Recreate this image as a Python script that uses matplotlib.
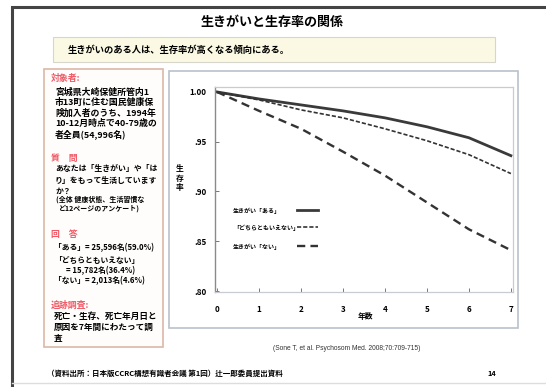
import matplotlib.pyplot as plt
from matplotlib.patches import Rectangle

plt.rcParams['font.family'] = ['Noto Sans CJK JP', 'DejaVu Sans']

# survival by ikigai answer, read per year of follow-up
years = [0, 1, 2, 3, 4, 5, 6, 7]
surv_aru = [1.000, 0.993, 0.987, 0.981, 0.974, 0.965, 0.954, 0.936]
surv_dochira = [1.000, 0.992, 0.982, 0.974, 0.963, 0.951, 0.937, 0.918]
surv_nai = [1.000, 0.981, 0.963, 0.940, 0.916, 0.889, 0.862, 0.841]
series_labels = ["生きがい「ある」", "「どちらともいえない」", "生きがい「ない」"]

y_ticks = [0.80, 0.85, 0.90, 0.95, 1.00]
y_ticklabels = [".80", ".85", ".90", ".95", "1.00"]

W, H = 546, 387
fig = plt.figure(figsize=(W / 100, H / 100), dpi=100)

# page layer in pixel coordinates
bg = fig.add_axes([0, 0, 1, 1])
bg.set_xlim(0, W)
bg.set_ylim(H, 0)
bg.axis('off')
bg.set_zorder(0)

bg.plot([12, 12, W], [H, 7, 7], color='#444444', lw=2.2, solid_joinstyle='miter')
bg.plot([12, W], [383, 383], color='#dddddd', lw=1)

bg.text(272, 22, "生きがいと生存率の関係", fontsize=9.4, fontweight='bold',
        ha='center', va='center')
bg.add_patch(Rectangle((53, 37), 442, 25, facecolor='#fbf9e4', edgecolor='#d6d6cc', lw=0.8))
bg.text(68, 50, "生きがいのある人は、生存率が高くなる傾向にある。", fontsize=6.7,
        fontweight='bold', ha='left', va='center')

# left info box
bg.add_patch(Rectangle((44, 69), 119, 278, facecolor='#fffdfb', edgecolor='#dcb8a8', lw=1.2))
red = '#ee5a66'
left_lines = [
    (51, 79, "対象者:", red, 6.4),
    (55, 92, "宮城県大崎保健所管内1", 'black', 6.4),
    (55, 102, "市13町に住む国民健康保", 'black', 6.4),
    (55, 113, "険加入者のうち、1994年", 'black', 6.4),
    (55, 123, "10-12月時点で40-79歳の", 'black', 6.4),
    (55, 134, "者全員(54,996名)", 'black', 6.4),
    (51, 159, "質　問", red, 6.4),
    (55, 169, "あなたは「生きがい」や「は", 'black', 5.7),
    (55, 180, "り」をもって生活しています", 'black', 5.7),
    (55, 191, "か？", 'black', 5.7),
    (56, 199, "(全体 健康状態、生活習慣な", 'black', 5.0),
    (59, 208, "ど12ページのアンケート)", 'black', 5.0),
    (51, 235, "回　答", red, 6.4),
    (54, 248, "「ある」= 25,596名(59.0%)", 'black', 5.6),
    (54, 260, "「どちらともいえない」", 'black', 5.6),
    (66, 271, "= 15,782名(36.4%)", 'black', 5.6),
    (54, 281, "「ない」= 2,013名(4.6%)", 'black', 5.6),
    (51, 305, "追跡調査:", red, 6.4),
    (54, 316, "死亡・生存、死亡年月日と", 'black', 6.2),
    (54, 327, "原因を7年間にわたって調", 'black', 6.2),
    (54, 338, "査", 'black', 6.2),
]
for x, y, s, c, fs in left_lines:
    bg.text(x, y, s, color=c, fontsize=fs, fontweight='bold', ha='left', va='center')

# chart panel
bg.add_patch(Rectangle((169, 71), 349, 257, facecolor='white', edgecolor='#b9c1ca', lw=1.2))

bg.text(180, 178, "生\n存\n率", fontsize=5.6, fontweight='bold', ha='center',
        va='center', linespacing=1.05)
bg.text(365, 316, "年数", fontsize=5.6, fontweight='bold', ha='center', va='center')
bg.text(273, 348, "(Sone T, et al. Psychosom Med. 2008;70:709-715)", fontsize=4.8,
        family=['Liberation Sans', 'DejaVu Sans'], ha='left', va='center', color='#333333')
bg.text(47, 373, "（資料出所：日本版CCRC構想有識者会議 第1回）辻一郎委員提出資料",
        fontsize=5.4, fontweight='bold', ha='left', va='center')
bg.text(487, 373, "14", fontsize=5.4, fontweight='bold', ha='left', va='center')

# survival curves
l, r, t, b = 215, 513, 87, 292
ax = fig.add_axes([l / W, 1 - b / H, (r - l) / W, (b - t) / H])
ax.set_zorder(1)
ax.patch.set_alpha(0)
styles = [
    dict(color='#3a3a3a', lw=2.0, ls='-'),
    dict(color='#333333', lw=1.2, ls=(0, (2.5, 1.2))),
    dict(color='#333333', lw=1.7, ls=(0, (3.5, 2.2))),
]
for vals, st in zip([surv_aru, surv_dochira, surv_nai], styles):
    ax.plot(years, vals, **st)

ax.set_xlim(-0.05, 7.05)
ax.set_ylim(0.799, 1.005)
ax.set_xticks(years)
ax.set_xticklabels([str(v) for v in years], fontsize=5.8, fontweight='bold')
ax.set_yticks(y_ticks)
ax.set_yticklabels(y_ticklabels, fontsize=5.8, fontweight='bold')
ax.tick_params(axis='x', direction='in', length=3, width=0.7, color='#777777', pad=9)
ax.tick_params(axis='y', direction='in', length=3, width=0.7, color='#777777', pad=6)
for side in ['top', 'right', 'bottom']:
    ax.spines[side].set_color('#c8ccd2')
    ax.spines[side].set_linewidth(0.9)
ax.spines['left'].set_color('#8a8a8a')
ax.spines['left'].set_linewidth(1.0)

# key: label on the left, line sample on the right
key_y = [0.400, 0.317, 0.224]
for lab, st, ky in zip(series_labels, styles, key_y):
    ax.text(0.06, ky, lab, transform=ax.transAxes, fontsize=4.3, fontweight='bold',
            ha='left', va='center')
    ax.plot([0.275, 0.346], [ky, ky], transform=ax.transAxes, **st)

fig.savefig('out.png', dpi=100)
